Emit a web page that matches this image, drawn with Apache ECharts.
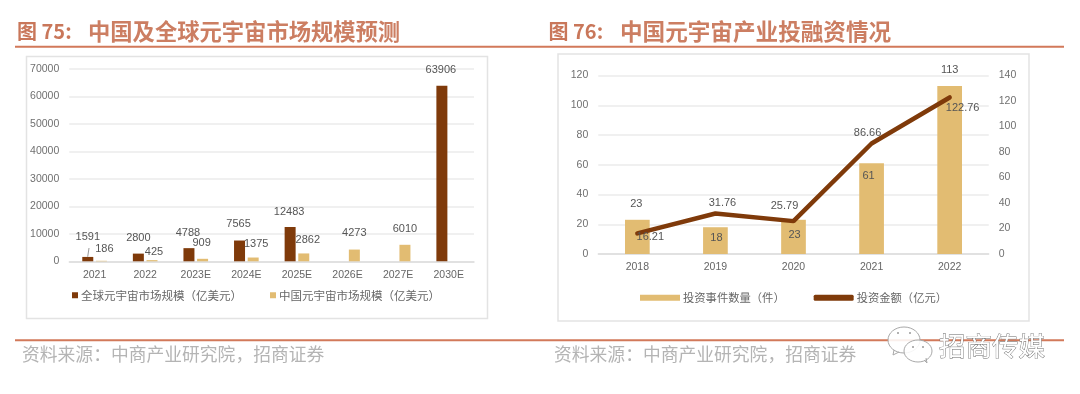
<!DOCTYPE html>
<html>
<head>
<meta charset="utf-8">
<style>
html,body{margin:0;padding:0;background:#fff}
#main{width:1080px;height:394px}
</style>
<script src="https://cdn.jsdelivr.net/npm/echarts@6/dist/echarts.min.js"></script>
</head>
<body>
<div id="main"></div>
<script>
// 图75 数据
var years75 = ['2021','2022','2023E','2024E','2025E','2026E','2027E','2030E'];
var globalSize = [1591,2800,4788,7565,12483,null,null,63906];
var chinaSize = [186,425,909,1375,2862,4273,6010,null];
// 图76 数据
var years76 = ['2018','2019','2020','2021','2022'];
var eventCount = [23,18,23,61,113];
var investAmount = [16.21,31.76,25.79,86.66,122.76];

// 标签是手工摆放的,这里是相对默认位置的偏移
var globalOffset = [[0,-9],[0,-5],[-1,-5],[-1,-6],[-1,-5],null,null,[-1,-5]];
var chinaOffset = [[3,-1],[2,2],[-1,-5],[3,-3],[4,-3],[0,-6],[0,-5],null];
var eventOffset = [[-1,-5],[1,21],[1,26],[-3,23],[0,-5]];
var amountOffset = [[13,15],[7,0],[-9,-4],[-4,0],[13,21]];

var brown = '#7F3A0A', tan = '#E2BC72', rule = '#D2795A';
var cjk = '"Noto Sans CJK SC"', latin = '"Liberation Sans"';

var withLabel = function(values, offsets) {
    return values.map(function(v, i) {
        return {
            value: v,
            label: {
                show: v != null,
                position: 'top',
                offset: offsets[i] || [0,0],
                fontSize: 11,
                fontFamily: latin,
                color: '#555'
            }
        };
    });
};

var frame = function(x, y, w, h) {
    return {type:'rect', silent:true, z:-1, shape:{x:x,y:y,width:w,height:h},
        style:{fill:'#fff',stroke:'#E3E3E3',lineWidth:1.5}};
};
var hline = function(y) {
    return {type:'line', silent:true, shape:{x1:15,y1:y,x2:1064,y2:y},
        style:{stroke:rule,lineWidth:2}};
};
var txt = function(x, y, s, size, color, weight) {
    return {type:'text', silent:true, x:x, y:y, z:5, style:{text:s, fontSize:size, fill:color,
        fontFamily:cjk, fontWeight:weight||'normal', verticalAlign:'middle'}};
};
var bubble = function(cx, cy, rx, ry) {
    return {type:'ellipse',silent:true,z:6,shape:{cx:cx,cy:cy,rx:rx,ry:ry},
        style:{fill:'rgba(255,255,255,0.88)',stroke:'#A8A8A8',lineWidth:1}};
};
var eye = function(cx, cy) {
    return {type:'circle',silent:true,z:7,shape:{cx:cx,cy:cy,r:1},style:{fill:'#999'}};
};
var tail = function(pts) {
    return {type:'polyline',silent:true,z:7,shape:{points:pts},style:{fill:null,stroke:'#A8A8A8',lineWidth:1}};
};

var myChart = echarts.init(document.getElementById('main'), null, {renderer:'canvas'});

var xAxisBase = {
    type:'category',
    axisTick:{show:false},
    axisLine:{lineStyle:{color:'#DCDCDC',width:1.5}},
    axisLabel:{fontSize:10.5,fontFamily:latin,color:'#666',margin:8}
};
var yAxisBase = {
    type:'value',
    axisLine:{show:false},
    axisTick:{show:false},
    axisLabel:{fontSize:10.5,fontFamily:latin,color:'#707070',margin:10,
        formatter:function(v){return String(v);}},
    splitLine:{lineStyle:{color:'#EBEBEB',width:1.5}}
};

myChart.setOption({
    animation:false,
    backgroundColor:'#fff',
    grid:[
        {left:69.3,top:69,width:404.7,height:192.3},
        {left:598.3,top:75.5,width:390.4,height:178.5}
    ],
    xAxis:[
        Object.assign({},xAxisBase,{gridIndex:0,data:years75}),
        Object.assign({},xAxisBase,{gridIndex:1,data:years76})
    ],
    yAxis:[
        Object.assign({},yAxisBase,{gridIndex:0,min:0,max:70000,interval:10000}),
        Object.assign({},yAxisBase,{gridIndex:1,min:0,max:120,interval:20}),
        Object.assign({},yAxisBase,{gridIndex:1,min:0,max:140,interval:20,position:'right',splitLine:{show:false}})
    ],
    legend:[
        {left:67,top:284.5,itemWidth:6,itemHeight:6,itemGap:28,icon:'rect',
            data:['全球元宇宙市场规模（亿美元）','中国元宇宙市场规模（亿美元）'],
            textStyle:{fontSize:11.5,fontFamily:cjk,color:'#666',padding:[0,0,0,-2]}},
        {left:635,top:287,itemWidth:40,itemHeight:6,itemGap:29,
            data:[{name:'投资事件数量（件）',icon:'rect'},{name:'投资金额（亿元）',icon:'roundRect'}],
            textStyle:{fontSize:11.3,fontFamily:cjk,color:'#666',padding:[0,0,0,-2]}}
    ],
    series:[
        {name:'全球元宇宙市场规模（亿美元）',type:'bar',xAxisIndex:0,yAxisIndex:0,barWidth:11,barGap:'24%',
            itemStyle:{color:brown},data:withLabel(globalSize,globalOffset)},
        {name:'中国元宇宙市场规模（亿美元）',type:'bar',xAxisIndex:0,yAxisIndex:0,barWidth:11,
            itemStyle:{color:tan},data:withLabel(chinaSize,chinaOffset)},
        {name:'投资事件数量（件）',type:'bar',xAxisIndex:1,yAxisIndex:1,barWidth:24.7,
            itemStyle:{color:tan},data:withLabel(eventCount,eventOffset)},
        {name:'投资金额（亿元）',type:'line',xAxisIndex:1,yAxisIndex:2,symbol:'circle',symbolSize:1,z:3,
            lineStyle:{color:brown,width:4.5,cap:'round'},itemStyle:{color:brown},
            data:withLabel(investAmount,amountOffset)}
    ],
    graphic:[
        frame(26.5,56.5,461,262),
        frame(558,54,471,267),
        hline(46.7),
        hline(340.3),
        txt(17,31.5,'图 75:',20,'#C9775A','bold'),
        txt(88,31.5,'中国及全球元宇宙市场规模预测',22.3,'#CC7E62','bold'),
        txt(548.5,31.5,'图 76:',20,'#C9775A','bold'),
        txt(620,31.5,'中国元宇宙产业投融资情况',22.6,'#CC7E62','bold'),
        txt(22,354,'资料来源：中商产业研究院，招商证券',17.8,'#B4B4B4'),
        txt(554,354,'资料来源：中商产业研究院，招商证券',17.8,'#B4B4B4'),
        // 1591 的引线
        {type:'line',silent:true,shape:{x1:87.7,y1:256.7,x2:89,y2:248},style:{stroke:'#999',lineWidth:1}},
        // 水印
        bubble(904,340,16,13),
        tail([[894,350],[893,355],[899,352]]),
        bubble(918,351,14,11),
        tail([[924,360],[927,363],[926,358]]),
        eye(898,333), eye(910,333), eye(913,347), eye(923,347),
        {type:'text',silent:true,x:939,y:346,z:7,style:{text:'招商传媒',fontSize:26.5,fill:'#fff',
            stroke:'#666',lineWidth:0.8,fontFamily:cjk,verticalAlign:'middle'}}
    ]
});
</script>
</body>
</html>
